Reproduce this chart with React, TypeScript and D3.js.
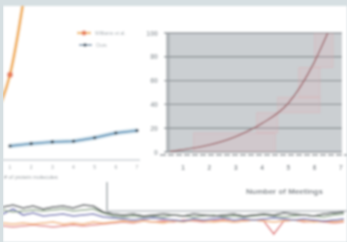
import * as d3 from 'd3';

// left chart (small line chart)
const leftIdx = [1, 2, 3, 4, 5, 6, 7];
const blueVals = [5, 7, 8.5, 9, 12, 16, 18];
const orangeX = [0.4, 1, 2];
const orangeVals = [33, 65, 170];
const leftTicks = ['1', '2', '3', '4', '5', '6', '7'];

// right chart (meetings)
const meetings = [0.5, 1, 2, 3, 4, 5, 6, 6.5];
const curveVals = [0.5, 2, 6, 13, 24, 41, 76, 100];
const yTicks = [0, 20, 40, 60, 80, 100];
const xTicks = [1, 2, 3, 4, 5, 6, 7];
const pinkBoxes = [
  [1.4, 4.5, 0, 16],
  [3.8, 4.6, 16, 33],
  [4.6, 6.2, 33, 46],
  [5.4, 6.2, 46, 71],
  [6.0, 6.7, 71, 100],
];

// bottom strip time series
const darkSeries = [29, 31, 28, 30, 27, 29, 30, 28, 31, 30, 24, 22, 21, 22, 20, 21, 22, 21, 20, 22, 21, 20, 21, 22, 20, 21, 22, 21, 23, 22, 21, 20, 22, 23, 24];
const greenSeries = [26, 24, 25, 26, 25, 26, 27, 25, 26, 27, 23, 20, 19, 20, 19, 20, 19, 21, 20, 19, 20, 21, 19, 20, 19, 20, 21, 20, 19, 20, 21, 20, 19, 21, 22];
const blueSeries = [22, 27, 21, 23, 20, 21, 22, 20, 21, 22, 19, 18, 17, 16, 17, 18, 17, 16, 15, 17, 16, 17, 18, 16, 17, 16, 17, 18, 17, 16, 17, 16, 15, 16, 17];
const orangeSeries = [13, 12, 13, 12, 13, 14, 12, 13, 12, 14, 13, 14, 15, 14, 15, 14, 13, 15, 14, 16, 15, 14, 15, 14, 15, 16, 15, 14, 15, 16, 15, 14, 15, 14, 15];
const redSeries = [10, 9, 10, 11, 10, 9, 10, 11, 10, 11, 12, 13, 14, 13, 15, 14, 15, 14, 16, 15, 14, 15, 16, 14, 15, 16, 15, 2, 15, 16, 14, 15, 14, 13, 14];

export default function App() {
  const W = 347, H = 242;

  const yR = d3.scaleLinear().domain([0, 100]).range([152, 33]);
  const xR = d3.scaleLinear().domain([0.5, 7.5]).range([170, 354]);
  const xL = d3.scaleLinear().domain([1, 7]).range([10, 137]);
  const xB = d3.scaleLinear().domain([0, darkSeries.length - 1]).range([3, 344]);
  const yB = d3.scaleLinear().domain([0, 40]).range([236, 196]);

  const curve = d3.line<number>().x((d, i) => xR(meetings[i])).y(d => yR(d)).curve(d3.curveMonotoneX);
  const blueLine = d3.line<number>().x((d, i) => xL(leftIdx[i])).y(d => yR(d));
  const orangeLine = d3.line<number>().x((d, i) => xL(orangeX[i])).y(d => yR(d)).curve(d3.curveMonotoneX);
  const bLine = d3.line<number>().x((d, i) => xB(i)).y(d => yB(d));

  const series = [
    { v: redSeries, c: '#e58a8a' },
    { v: orangeSeries, c: '#f2b576' },
    { v: blueSeries, c: '#7477b8' },
    { v: greenSeries, c: '#93ab90' },
    { v: darkSeries, c: '#4f5458' },
  ];

  return (
    <svg width={W} height={H} style={{ position: 'absolute', left: 0, top: 0 }}>
      <defs>
        <filter id="soft" x="-5%" y="-5%" width="110%" height="110%">
          <feGaussianBlur stdDeviation="0.9" />
        </filter>
        <clipPath id="leftClip"><rect x={3} y={6} width={160} height={150} /></clipPath>
        <clipPath id="rightClip"><rect x={170} y={33} width={172} height={119} /></clipPath>
      </defs>
      <rect width={W} height={H} fill="#d6dfe2" />
      <g filter="url(#soft)">
        <rect x={3} y={6} width={W - 3} height={H - 6} fill="#ffffff" />

        {/* left chart */}
        <g clipPath="url(#leftClip)">
          <path d={orangeLine(orangeVals) || ''} fill="none" stroke="#f5cf8e" strokeWidth={3.5} />
          <path d={orangeLine(orangeVals) || ''} fill="none" stroke="#efa555" strokeWidth={1.5} />
          <circle cx={xL(1)} cy={yR(65)} r={3} fill="#e8805a" />
        </g>
        <path d={blueLine(blueVals) || ''} fill="none" stroke="#c3dce8" strokeWidth={4.5} />
        <path d={blueLine(blueVals) || ''} fill="none" stroke="#5a8db5" strokeWidth={1.4} />
        {blueVals.map((v, i) => (
          <circle key={i} cx={xL(leftIdx[i])} cy={yR(v)} r={1.8} fill="#3f5565" />
        ))}
        <line x1={3} x2={140} y1={160} y2={160} stroke="#d7dcdf" strokeWidth={2} />
        {leftTicks.map((t, i) => (
          <text key={t} x={xL(leftIdx[i])} y={169} fontSize={5} fill="#9aa0a4" textAnchor="middle" fontFamily="Arial, sans-serif">{t}</text>
        ))}
        <text x={4} y={179} fontSize={5.5} fill="#9aa0a4" fontFamily="Arial, sans-serif"># of protein molecules</text>

        {/* legend */}
        <line x1={77} x2={91} y1={33} y2={33} stroke="#f3c27a" strokeWidth={2.5} />
        <circle cx={84} cy={33} r={2.5} fill="#e8805a" />
        <text x={95} y={35} fontSize={5} fill="#a8aeb2" fontFamily="Arial, sans-serif">Williams et al.</text>
        <line x1={79} x2={92} y1={45} y2={45} stroke="#6a8aa5" strokeWidth={1.5} />
        <circle cx={85} cy={45} r={1.8} fill="#3f5565" />
        <text x={96} y={47} fontSize={5} fill="#a8aeb2" fontFamily="Arial, sans-serif">Ours</text>

        {/* right chart */}
        <rect x={170} y={33} width={172} height={119} fill="#cbcfd2" />
        <rect x={166} y={33} width={4} height={119} fill="#b3b8bb" />
        {yTicks.map(t => (
          <g key={t}>
            <line x1={164} x2={342} y1={yR(t)} y2={yR(t)} stroke="#8e9498" strokeWidth={1.4} />
            <text x={158} y={yR(t) + 2.5} fontSize={7} fontWeight="bold" fill="#a3a9ad" textAnchor="end" fontFamily="Arial, sans-serif">{t}</text>
          </g>
        ))}
        <g clipPath="url(#rightClip)">
          {pinkBoxes.map((b, i) => (
            <rect key={i} x={xR(b[0])} y={yR(b[3])} width={xR(b[1]) - xR(b[0])} height={yR(b[2]) - yR(b[3])}
              fill="#e3b0b5" fillOpacity={0.22} stroke="#e0a9ae" strokeOpacity={0.45} strokeWidth={0.8} />
          ))}
          <path d={curve(curveVals) || ''} fill="none" stroke="#a0666b" strokeWidth={1.4} />
        </g>
        <line x1={160} x2={347} y1={155} y2={155} stroke="#8d9397" strokeWidth={1.5} strokeDasharray="6 2" />
        {xTicks.map(t => (
          <text key={t} x={xR(t)} y={170} fontSize={6.5} fontWeight="bold" fill="#868c91" textAnchor="middle" fontFamily="Arial, sans-serif">{t}</text>
        ))}
        <text x={246} y={194} fontSize={8} fontWeight="bold" fill="#7f858a" fontFamily="Arial, sans-serif">Number of Meetings</text>

        {/* bottom strip */}
        <line x1={107} x2={107} y1={182} y2={211} stroke="#9ea4a8" strokeWidth={1.5} />
        <line x1={107} x2={347} y1={211} y2={211} stroke="#c9ced1" strokeWidth={2} />
        {series.map((s, i) => (
          <path key={i} d={bLine(s.v) || ''} fill="none" stroke={s.c} strokeWidth={1.7} />
        ))}
      </g>
      <rect x={0} y={0} width={3} height={H} fill="#d6dfe2" />
    </svg>
  );
}
